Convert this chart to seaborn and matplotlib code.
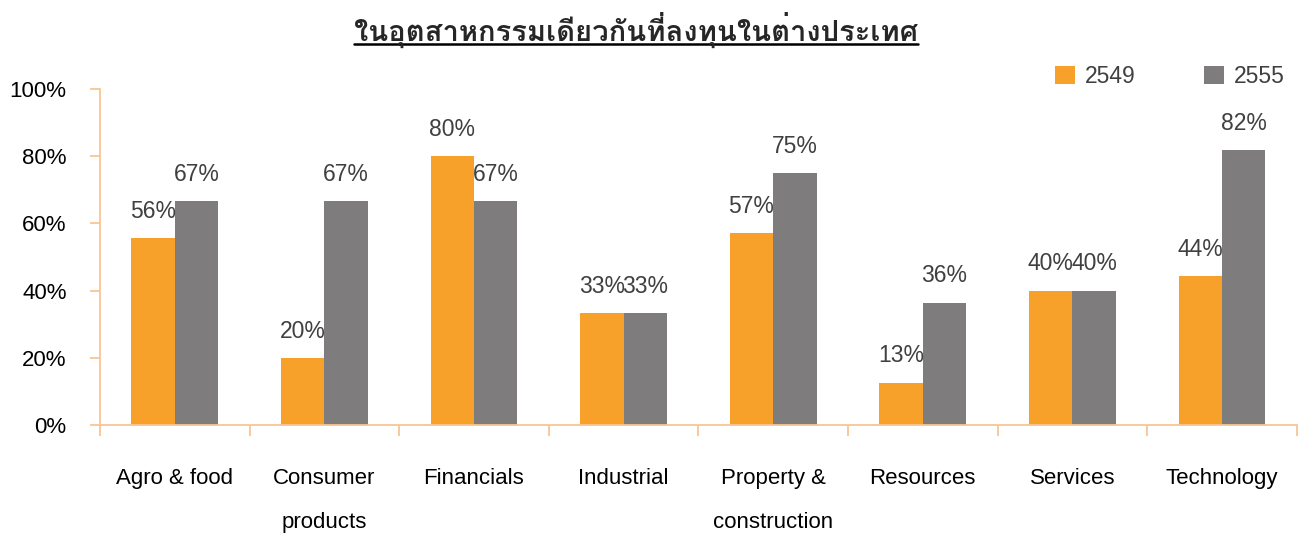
import matplotlib
matplotlib.use("Agg")
import matplotlib.pyplot as plt
import seaborn as sns
import pandas as pd
from matplotlib import font_manager
from matplotlib.ft2font import FT2Font
from matplotlib.lines import Line2D
from matplotlib.ticker import PercentFormatter, FixedLocator

# data
categories = ["Agro & food", "Consumer\nproducts", "Financials", "Industrial",
              "Property &\nconstruction", "Resources", "Services", "Technology"]
share_2549 = [0.556, 0.20, 0.80, 0.333, 0.571, 0.126, 0.40, 0.444]
share_2555 = [0.667, 0.667, 0.667, 0.333, 0.75, 0.364, 0.40, 0.818]
years = ["2549", "2555"]
title = "ในอุตสาหกรรมเดียวกันที่ลงทุนในต่างประเทศ"

ORANGE = "#F7A12B"
GREY = "#7F7C7D"
AXIS = "#F8C593"
LABEL = "#404040"


def thai_font():
    # pick the first installed font that has Thai glyphs
    for f in font_manager.fontManager.ttflist:
        try:
            if ord("ใ") in FT2Font(f.fname).get_charmap():
                return f.name
        except Exception:
            pass
    return "DejaVu Sans"


df = pd.DataFrame({
    "category": categories * 2,
    "year": [years[0]] * len(categories) + [years[1]] * len(categories),
    "value": share_2549 + share_2555,
})

sns.set_theme(style="white")
plt.rcParams["font.family"] = ["Liberation Sans", "DejaVu Sans"]

fig = plt.figure(figsize=(12.98, 5.35), dpi=100)
ax = fig.add_axes([0.077, 0.2056, 0.922, 0.628])

sns.barplot(data=df, x="category", y="value", hue="year",
            palette=[ORANGE, GREY], width=0.58, saturation=1,
            edgecolor="none", ax=ax)

for cont in ax.containers:
    ax.bar_label(cont, labels=[f"{v:.0%}" for v in cont.datavalues],
                 padding=11, fontsize=16.5, color=LABEL)

ax.set_xlim(-0.5, len(categories) - 0.5)
ax.set_ylim(0, 1.0)
ax.set_yticks([0, 0.2, 0.4, 0.6, 0.8, 1.0])
ax.yaxis.set_major_formatter(PercentFormatter(1.0, decimals=0))
ax.set_xticks(range(len(categories)))
ax.set_xticklabels(categories, linespacing=2.45, va="top")
ax.set_xlabel("")
ax.set_ylabel("")

sns.despine(ax=ax)
ax.spines["left"].set_color(AXIS)
ax.spines["bottom"].set_color(AXIS)
ax.spines["left"].set_linewidth(1.3)
ax.spines["bottom"].set_linewidth(1.3)

ax.xaxis.set_minor_locator(FixedLocator([i - 0.5 for i in range(len(categories) + 1)]))
ax.tick_params(axis="x", which="major", length=0, pad=31, labelsize=16, labelcolor="black")
ax.tick_params(axis="x", which="minor", bottom=True, length=8, width=1.3, color=AXIS,
               direction="out")
ax.tick_params(axis="y", which="major", length=7, width=1.3, color=AXIS, direction="out",
               pad=17, labelsize=16, labelcolor="black", left=True)

leg = ax.legend(loc="upper right", bbox_to_anchor=(0.998, 1.10), ncol=2, frameon=False,
                fontsize=16.5, handlelength=0.85, handleheight=0.85, handletextpad=0.45,
                columnspacing=3.0, borderaxespad=0)
for t in leg.get_texts():
    t.set_color(LABEL)

ttl = fig.text(0.49, 0.944, title, ha="center", va="center", fontsize=21,
               fontweight="bold", family=[thai_font(), "DejaVu Sans"])

# underline under the title
fig.canvas.draw()
bb = ttl.get_window_extent().transformed(fig.transFigure.inverted())
fig.add_artist(Line2D([bb.x0, bb.x1], [0.918, 0.918], transform=fig.transFigure,
                      color="black", linewidth=1.8))

fig.savefig("out.png", dpi=100)
